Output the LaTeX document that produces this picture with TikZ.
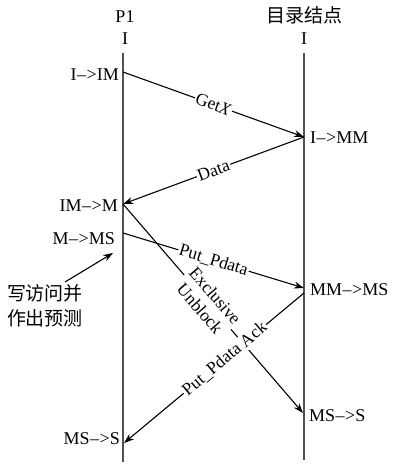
\documentclass[tikz,border=0pt]{standalone}
\usepackage{fontspec}
\setmainfont{Liberation Serif}
\newfontfamily\cjk{Noto Sans CJK SC}
\usetikzlibrary{arrows.meta}
\newcommand{\tto}{\kern0.5pt–\kern0.5pt>}
\begin{document}
\begin{tikzpicture}[x=1pt,y=-1pt,
  life/.style={draw=black!68, line width=1.8pt},
  msg/.style={draw, line width=1.1pt, -{Stealth[length=10pt,width=7pt]}},
  lbl/.style={font=\fontsize{17.5}{17}\selectfont, inner sep=1.2pt, fill=white, sloped},
  st/.style={font=\fontsize{18}{19}\selectfont, inner sep=1pt},
  cn/.style={font=\cjk\fontsize{19}{25}\selectfont, inner sep=1pt}]
\useasboundingbox (0,0) rectangle (397,464);
% headers
\node[st] (p1) at (125,17) {P1};
\node[st] (pI) at (125,39) {I};
\node[cn] (dir) at (304,15) {目录结点};
\node[st] (dI) at (304,39) {I};
% lifelines
\coordinate (Ltop) at (123,53);
\coordinate (Lbot) at (123,462);
\coordinate (Rtop) at (304,53);
\coordinate (Rbot) at (304,460);
\draw[life] (Ltop) -- (Lbot);
\draw[life] (Rtop) -- (Rbot);
% event points
\coordinate (a1) at (123,72);
\coordinate (b1) at (304,137);
\coordinate (a2) at (123,204);
\coordinate (a3) at (123,233);
\coordinate (b3) at (304,288);
\coordinate (b4) at (304,293);
\coordinate (a4) at (124,443);
\coordinate (b5) at (303,413);
% state labels
\node[st, anchor=east] (s1) at (120,75) {I\tto IM};
\node[st, anchor=west] (s2) at (309,138) {I\tto MM};
\node[st, anchor=east] (s3) at (119,206) {IM\tto M};
\node[st, anchor=east] (s4) at (116,239) {M\tto MS};
\node[st, anchor=west] (s5) at (309,290) {MM\tto MS};
\node[st, anchor=west] (s6) at (308,416) {MS\tto S};
\node[st, anchor=east] (s7) at (121,439) {MS\tto S};
% messages
\draw[msg] (a1) -- node[lbl, pos=0.5] (getx) {Get\textit{X}} (b1);
\draw[msg] (b1) -- node[lbl, pos=0.5] (data) {Data} (a2);
\draw[msg] (a2) -- node[lbl, pos=0.47, align=center, font=\fontsize{17.5}{20}\selectfont] (exu) {Exclusive\\Unblock} (b5);
\draw[msg] (a3) -- node[lbl, pos=0.5] (pp) {Put\_Pdata} (b3);
\draw[msg] (b4) -- node[lbl, pos=0.44] (ppa) {Put\_Pdata Ack} (a4);
% note
\node[cn, align=left] (note) at (45,306) {写访问并\\作出预测};
\coordinate (n1) at (65,282);
\coordinate (n2) at (113,253);
\draw[msg] (n1) -- (n2);
\end{tikzpicture}
\end{document}
